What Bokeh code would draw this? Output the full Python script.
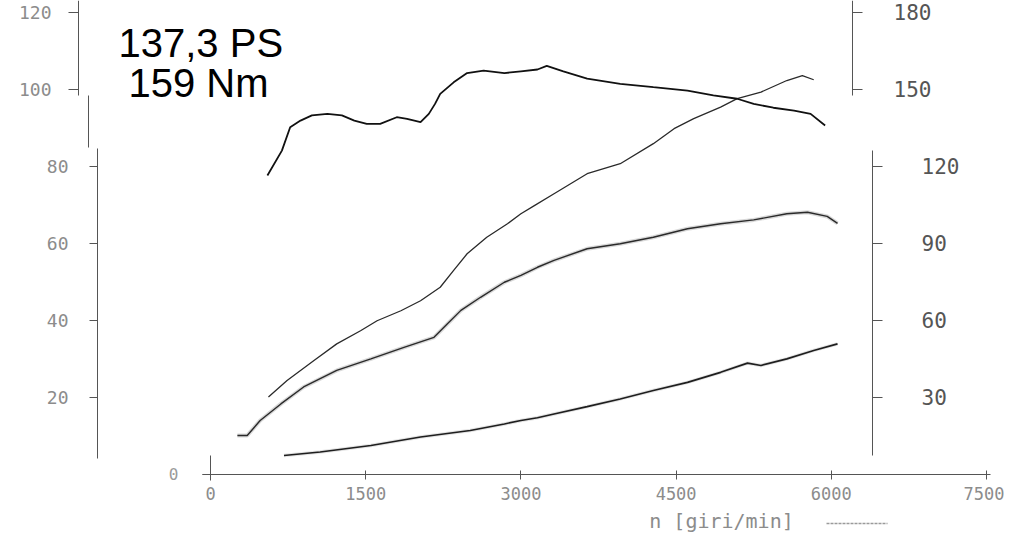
from bokeh.plotting import figure
from bokeh.models import Range1d, LinearAxis, FixedTicker
from bokeh.core.properties import value
from bokeh.embed import file_html
from bokeh.resources import INLINE

# ---------------- data ----------------
torque_rpm = [550, 690, 770, 870, 980, 1130, 1270, 1390, 1510, 1640, 1800, 1900, 2030,
              2110, 2170, 2220, 2350, 2480, 2640, 2840, 3000, 3160, 3250, 3410, 3640,
              3960, 4280, 4610, 4860, 5090, 5250, 5440, 5640, 5800, 5940]
torque_nm = [116.3, 126.0, 135.1, 137.7, 139.7, 140.3, 139.7, 137.7, 136.4, 136.4, 139.0,
             138.4, 137.1, 140.3, 144.2, 148.1, 152.6, 156.2, 157.2, 156.2, 156.9, 157.6,
             159.0, 156.9, 154.0, 152.0, 150.7, 149.4, 147.5, 146.2, 144.2, 142.7, 141.6,
             140.3, 135.8]

power_rpm = [560, 740, 1000, 1220, 1450, 1610, 1840, 2030, 2220, 2350, 2480, 2670, 2870,
             3000, 3130, 3320, 3640, 3960, 4280, 4480, 4670, 4930, 5090, 5320, 5570,
             5720, 5830]
power_kw = [20.0, 24.3, 29.5, 33.8, 37.2, 39.8, 42.4, 45.0, 48.5, 52.9, 57.2, 61.5, 65.0,
            67.6, 69.7, 72.8, 78.0, 80.6, 85.8, 89.7, 92.3, 95.3, 97.5, 99.2, 102.2,
            103.5, 102.4]

wheel_rpm = [260, 355, 480, 680, 900, 1220, 1550, 1870, 2160, 2290, 2420, 2610, 2840,
             3000, 3160, 3320, 3640, 3960, 4280, 4610, 4930, 5250, 5570, 5770, 5960, 6060]
wheel_kw = [10.0, 10.0, 13.9, 18.2, 22.6, 26.9, 29.9, 32.9, 35.5, 39.0, 42.5, 45.9, 49.8,
            51.6, 53.7, 55.5, 58.5, 59.8, 61.5, 63.7, 65.0, 66.0, 67.6, 68.0, 66.9, 65.1]

loss_rpm = [710, 1060, 1550, 2030, 2510, 2840, 3000, 3160, 3320, 3640, 3960, 4280, 4610,
            4930, 5190, 5320, 5570, 5830, 6060]
loss_kw = [4.8, 5.7, 7.4, 9.6, 11.3, 13.0, 13.9, 14.6, 15.6, 17.5, 19.5, 21.7, 23.8,
           26.4, 28.8, 28.2, 29.9, 32.1, 33.8]

x_ticks = [0, 1500, 3000, 4500, 6000, 7500]
left_ticks_upper = [100, 120]
left_ticks_lower = [20, 40, 60, 80]
zero_tick = [0]
right_ticks_upper = [150, 180]
right_ticks_lower = [30, 60, 90, 120]
headline = ["137,3 PS", "159 Nm"]
x_title = "n [giri/min]"

# ---------------- layout helpers (screen px -> data) ----------------
W, H = 1004, 545
PX_PER_RPM = 0.10347
PX_PER_UNIT = 3.85
X0_PX, Y0_PX = 210, 473.5


def rpm_at(px):
    return (px - X0_PX) / PX_PER_RPM


def left_at(py):
    return (Y0_PX - py) / PX_PER_UNIT


x_start, x_end = rpm_at(0), rpm_at(W)
y_start, y_end = left_at(H), left_at(0)

p = figure(width=W, height=H, output_backend="svg", toolbar_location=None,
           x_axis_location=None, y_axis_location=None,
           x_range=Range1d(x_start, x_end), y_range=Range1d(y_start, y_end),
           min_border=0, min_border_left=0, min_border_right=0,
           min_border_top=0, min_border_bottom=0)
p.extra_y_ranges = {"right": Range1d(1.5 * y_start, 1.5 * y_end)}
p.xgrid.visible = False
p.ygrid.visible = False
p.outline_line_color = None
p.background_fill_color = "white"
p.border_fill_color = "white"

AX = "#555555"
MONO = "DejaVu Sans Mono"


def style(ax, size, color, tin, tout, standoff):
    ax.axis_line_color = AX
    ax.axis_line_width = 1
    ax.major_tick_line_color = AX
    ax.major_tick_in = tin
    ax.major_tick_out = tout
    ax.minor_tick_line_color = None
    ax.major_label_text_font = MONO
    ax.major_label_text_font_size = size
    ax.major_label_text_color = color
    ax.major_label_standoff = standoff


# bottom axis (rpm)
bottom = LinearAxis(fixed_location=0, ticker=FixedTicker(ticks=x_ticks),
                    bounds=(rpm_at(202), rpm_at(990)))
style(bottom, "17px", "#8c8c8c", 4, 5, 8)
p.add_layout(bottom, "below")

# left axis, drawn in three offset pieces like the scanned printout
left_up = LinearAxis(fixed_location=rpm_at(78), ticker=FixedTicker(ticks=left_ticks_upper),
                     bounds=(left_at(95), left_at(0)))
style(left_up, "18px", "#8c8c8c", 0, 10, 17)
p.add_layout(left_up, "left")

left_mid = LinearAxis(fixed_location=rpm_at(88), ticker=FixedTicker(ticks=[]),
                      bounds=(left_at(147), left_at(95)))
style(left_mid, "18px", "#8c8c8c", 0, 0, 0)
p.add_layout(left_mid, "left")

left_low = LinearAxis(fixed_location=rpm_at(97), ticker=FixedTicker(ticks=left_ticks_lower),
                      bounds=(left_at(458), left_at(148)))
style(left_low, "18px", "#8c8c8c", 0, 8, 21)
p.add_layout(left_low, "left")

zero_ax = LinearAxis(fixed_location=0, ticker=FixedTicker(ticks=zero_tick),
                     bounds=(left_at(480), left_at(455)))
style(zero_ax, "16px", "#9a9a9a", 0, 8, 24)
p.add_layout(zero_ax, "left")

# right axis (Nm), two offset pieces
right_up = LinearAxis(y_range_name="right", fixed_location=rpm_at(852),
                      ticker=FixedTicker(ticks=right_ticks_upper),
                      bounds=(1.5 * left_at(95), 1.5 * left_at(0)))
style(right_up, "21px", "#555555", 0, 10, 31)
p.add_layout(right_up, "right")

right_low = LinearAxis(y_range_name="right", fixed_location=rpm_at(872),
                       ticker=FixedTicker(ticks=right_ticks_lower),
                       bounds=(1.5 * left_at(455), 1.5 * left_at(150)))
style(right_low, "21px", "#555555", 0, 10, 39)
right_low.major_label_text_align = "right"
p.add_layout(right_low, "right")

# ---------------- curves ----------------
p.line(wheel_rpm, wheel_kw, line_color="#c8c8c8", line_width=4, line_alpha=0.7)
p.line(wheel_rpm, wheel_kw, line_color="#2a2a2a", line_width=1.4)
p.line(loss_rpm, loss_kw, line_color="#d0d0d0", line_width=3.5, line_alpha=0.6)
p.line(loss_rpm, loss_kw, line_color="#1e1e1e", line_width=1.6)
p.line(power_rpm, power_kw, line_color="#2a2a2a", line_width=1.3)
p.line(torque_rpm, torque_nm, y_range_name="right", line_color="#111111", line_width=1.8)

# ---------------- texts ----------------
p.text(x=[rpm_at(118)], y=[left_at(42)], text=[headline[0]],
       text_font=value("Liberation Sans"), text_font_size="40px",
       text_color="black", text_baseline="alphabetic", text_align="left")
p.text(x=[rpm_at(128)], y=[left_at(82)], text=[headline[1]],
       text_font=value("Liberation Sans"), text_font_size="40px",
       text_color="black", text_baseline="alphabetic", text_align="left")
p.text(x=[rpm_at(721)], y=[left_at(520)], text=[x_title],
       text_font=value(MONO), text_font_size="20px", text_color="#8c8c8c",
       text_baseline="middle", text_align="center")
p.line([rpm_at(826), rpm_at(887)], [left_at(523), left_at(523)],
       line_color="#9a9a9a", line_width=1.5, line_dash="3 1")

open("out.html", "w").write(file_html(p, INLINE))
